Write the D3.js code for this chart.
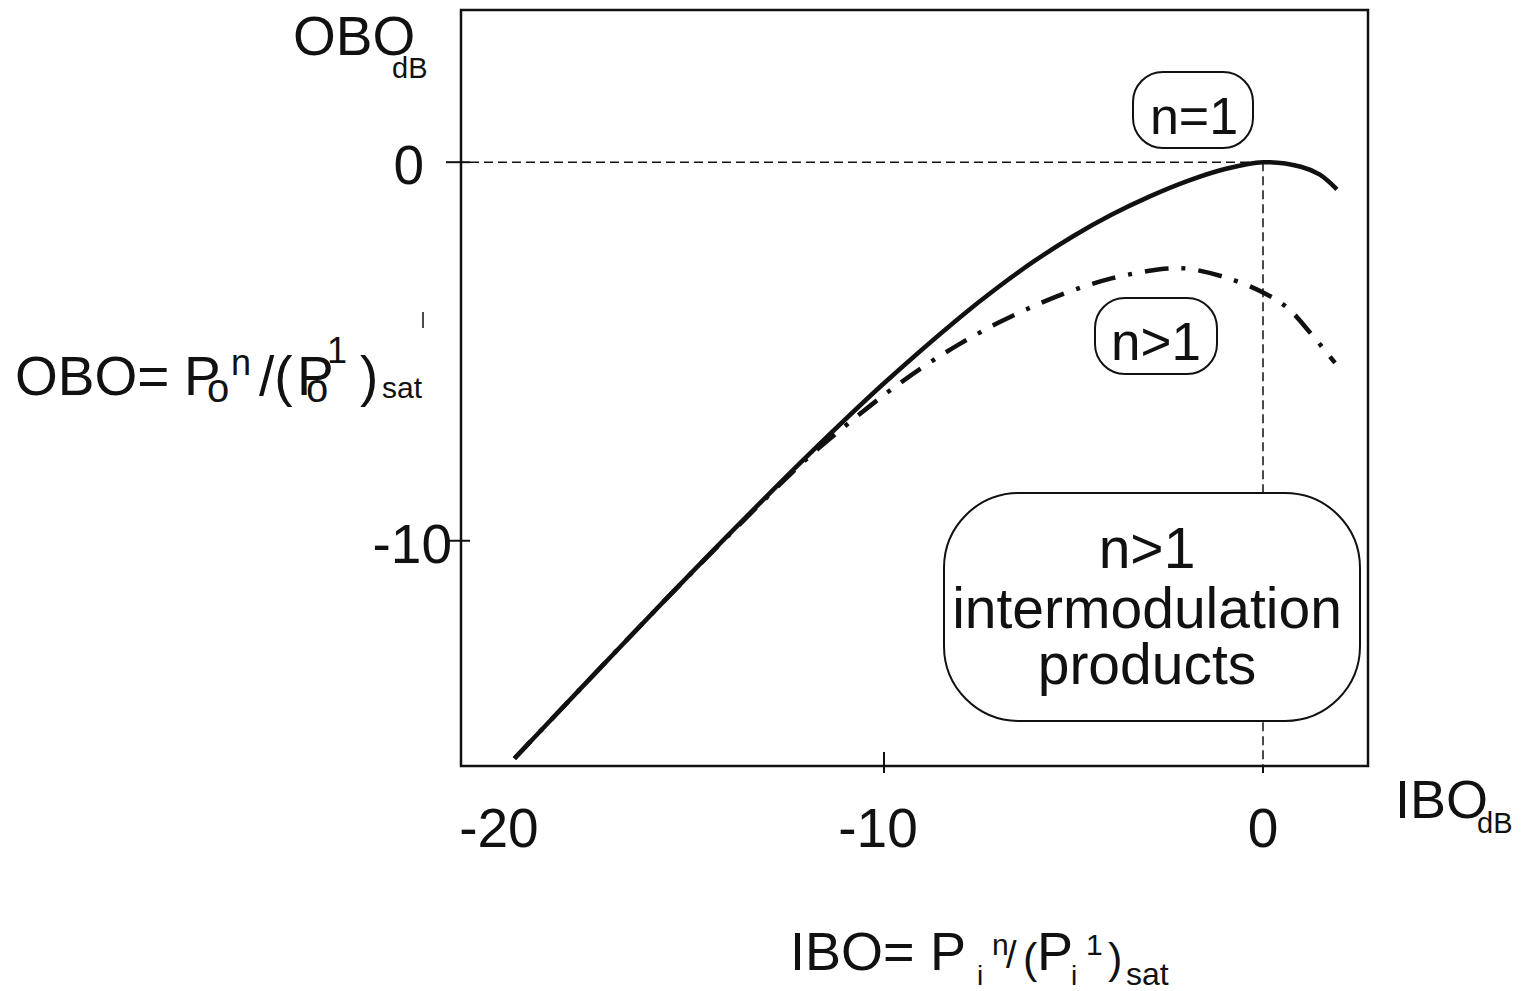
<!DOCTYPE html>
<html>
<head>
  <meta charset="utf-8">
  <title>OBO vs IBO</title>
  <style>
    body { margin: 0; background: #fff; }
    svg { display: block; }
    text { font-family: "Liberation Sans", Arial, sans-serif; fill: #111; }
  </style>
  <script src="https://cdn.jsdelivr.net/npm/d3@7"></script>
</head>
<body>
<script>
  // data (IBO dB -> OBO dB)
  var solidIBO = [-19.75, -18, -16, -14, -12, -10, -8, -7, -6, -5, -4, -3, -2, -1, 0, 1, 1.5, 1.95];
  var solidOBO = [-15.75, -13.9, -11.8, -9.74, -7.74, -5.84, -4.1, -3.31, -2.59, -1.95, -1.39, -0.91, -0.5, -0.18, 0, -0.12, -0.33, -0.72];

  var imdIBO = [-19.75, -18, -16, -14, -12, -11, -10, -9, -8, -7, -6, -5, -4, -3, -2.5, -2, -1, 0, 0.66, 1.24, 1.9];
  var imdOBO = [-15.75, -13.9, -11.8, -9.76, -7.8, -6.95, -6.15, -5.43, -4.8, -4.25, -3.78, -3.38, -3.07, -2.87, -2.81, -2.81, -3.04, -3.44, -3.86, -4.5, -5.3];

  var xTickLabels = [-20, -10, 0];
  var xTickMarks = [-10, 0];
  var yTickLabels = [0, -10];

  var W = 1525, H = 991;
  var x = d3.scaleLinear().domain([-21.16, 2.77]).range([461, 1368]);
  var y = d3.scaleLinear().domain([4.02, -15.95]).range([10, 766]);

  var svg = d3.select('body').append('svg')
    .attr('width', W).attr('height', H);

  function label(px, py, str, size, anchor) {
    return svg.append('text')
      .attr('x', px).attr('y', py)
      .attr('font-size', size)
      .attr('text-anchor', anchor || 'start')
      .text(str);
  }

  // frame
  svg.append('rect')
    .attr('x', x.range()[0]).attr('y', y.range()[0])
    .attr('width', x.range()[1] - x.range()[0])
    .attr('height', y.range()[1] - y.range()[0])
    .attr('fill', 'none').attr('stroke', '#111').attr('stroke-width', 2.5);

  // reference dashes at the saturation point
  svg.append('line')
    .attr('x1', x.range()[0] + 9).attr('x2', x(0))
    .attr('y1', y(0)).attr('y2', y(0))
    .attr('stroke', '#111').attr('stroke-width', 1.5).attr('stroke-dasharray', '9,5');
  svg.append('line')
    .attr('x1', x(0)).attr('x2', x(0))
    .attr('y1', y(0)).attr('y2', y.range()[1])
    .attr('stroke', '#111').attr('stroke-width', 1.5).attr('stroke-dasharray', '9,5');

  // y ticks
  svg.selectAll('.ytick').data(yTickLabels).enter().append('line')
    .attr('x1', x.range()[0] - 15).attr('x2', x.range()[0] + 9)
    .attr('y1', d => y(d)).attr('y2', d => y(d))
    .attr('stroke', '#111').attr('stroke-width', 2);
  svg.selectAll('.ylab').data(yTickLabels).enter().append('text')
    .attr('x', d => d === 0 ? 424 : 452)
    .attr('y', d => y(d) + 22)
    .attr('font-size', 55)
    .attr('text-anchor', 'end')
    .text(d => d);

  // x ticks
  svg.selectAll('.xtick').data(xTickMarks).enter().append('line')
    .attr('x1', d => x(d)).attr('x2', d => x(d))
    .attr('y1', d => d === 0 ? y.range()[1] : y.range()[1] - 14)
    .attr('y2', y.range()[1] + 7)
    .attr('stroke', '#111').attr('stroke-width', 2);
  svg.selectAll('.xlab').data(xTickLabels).enter().append('text')
    .attr('x', d => x(d) + (d < 0 ? -6 : 0))
    .attr('y', 847)
    .attr('font-size', 55)
    .attr('text-anchor', 'middle')
    .text(d => d);

  // curves
  var line = d3.line()
    .x(d => x(d[0])).y(d => y(d[1]))
    .curve(d3.curveCatmullRom.alpha(0.5));

  svg.append('path')
    .datum(d3.zip(solidIBO, solidOBO))
    .attr('d', line)
    .attr('fill', 'none').attr('stroke', '#111').attr('stroke-width', 4.5);

  svg.append('path')
    .datum(d3.zip(imdIBO, imdOBO))
    .attr('d', line)
    .attr('fill', 'none').attr('stroke', '#111').attr('stroke-width', 4.5)
    .attr('stroke-dasharray', '24,13,4,13');

  // rounded label boxes
  function box(bx, by, bw, bh, r) {
    svg.append('rect')
      .attr('x', bx).attr('y', by).attr('width', bw).attr('height', bh)
      .attr('rx', r).attr('ry', r)
      .attr('fill', '#fff').attr('stroke', '#111').attr('stroke-width', 2);
  }
  box(1133, 72, 120, 76, 30);
  label(1194, 134, 'n=1', 52, 'middle');
  box(1095, 298, 122, 76, 30);
  label(1156, 360, 'n>1', 53, 'middle');
  box(944, 493, 416, 228, 75);
  label(1147, 568, 'n>1', 57, 'middle');
  label(1147, 628, 'intermodulation', 57, 'middle');
  label(1147, 684, 'products', 57, 'middle');

  // axis titles
  label(293, 55, 'OBO', 55);
  label(392, 78, 'dB', 29);
  label(1395, 818, 'IBO', 54);
  label(1477, 833, 'dB', 29);

  // OBO definition
  label(15, 395, 'OBO=', 55);
  label(184, 395, 'P', 55);
  label(207, 402, 'o', 40);
  label(231, 375, 'n', 36);
  label(259, 395, '/(', 55);
  label(297, 395, 'P', 55);
  label(306, 402, 'o', 40);
  label(327, 363, '1', 36);
  label(360, 395, ')', 55);
  label(382, 398, 'sat', 30);
  svg.append('line')
    .attr('x1', 423).attr('x2', 423).attr('y1', 312).attr('y2', 328)
    .attr('stroke', '#111').attr('stroke-width', 1.5);

  // IBO definition
  label(790, 970, 'IBO=', 54);
  label(930, 970, 'P', 54);
  label(977, 985, 'i', 28);
  label(992, 955, 'n', 30);
  label(1006, 968, '/', 38);
  label(1023, 973, '(', 43);
  label(1037, 970, 'P', 54);
  label(1071, 985, 'i', 28);
  label(1086, 955, '1', 30);
  label(1108, 973, ')', 43);
  label(1126, 985, 'sat', 32);
</script>
</body>
</html>
